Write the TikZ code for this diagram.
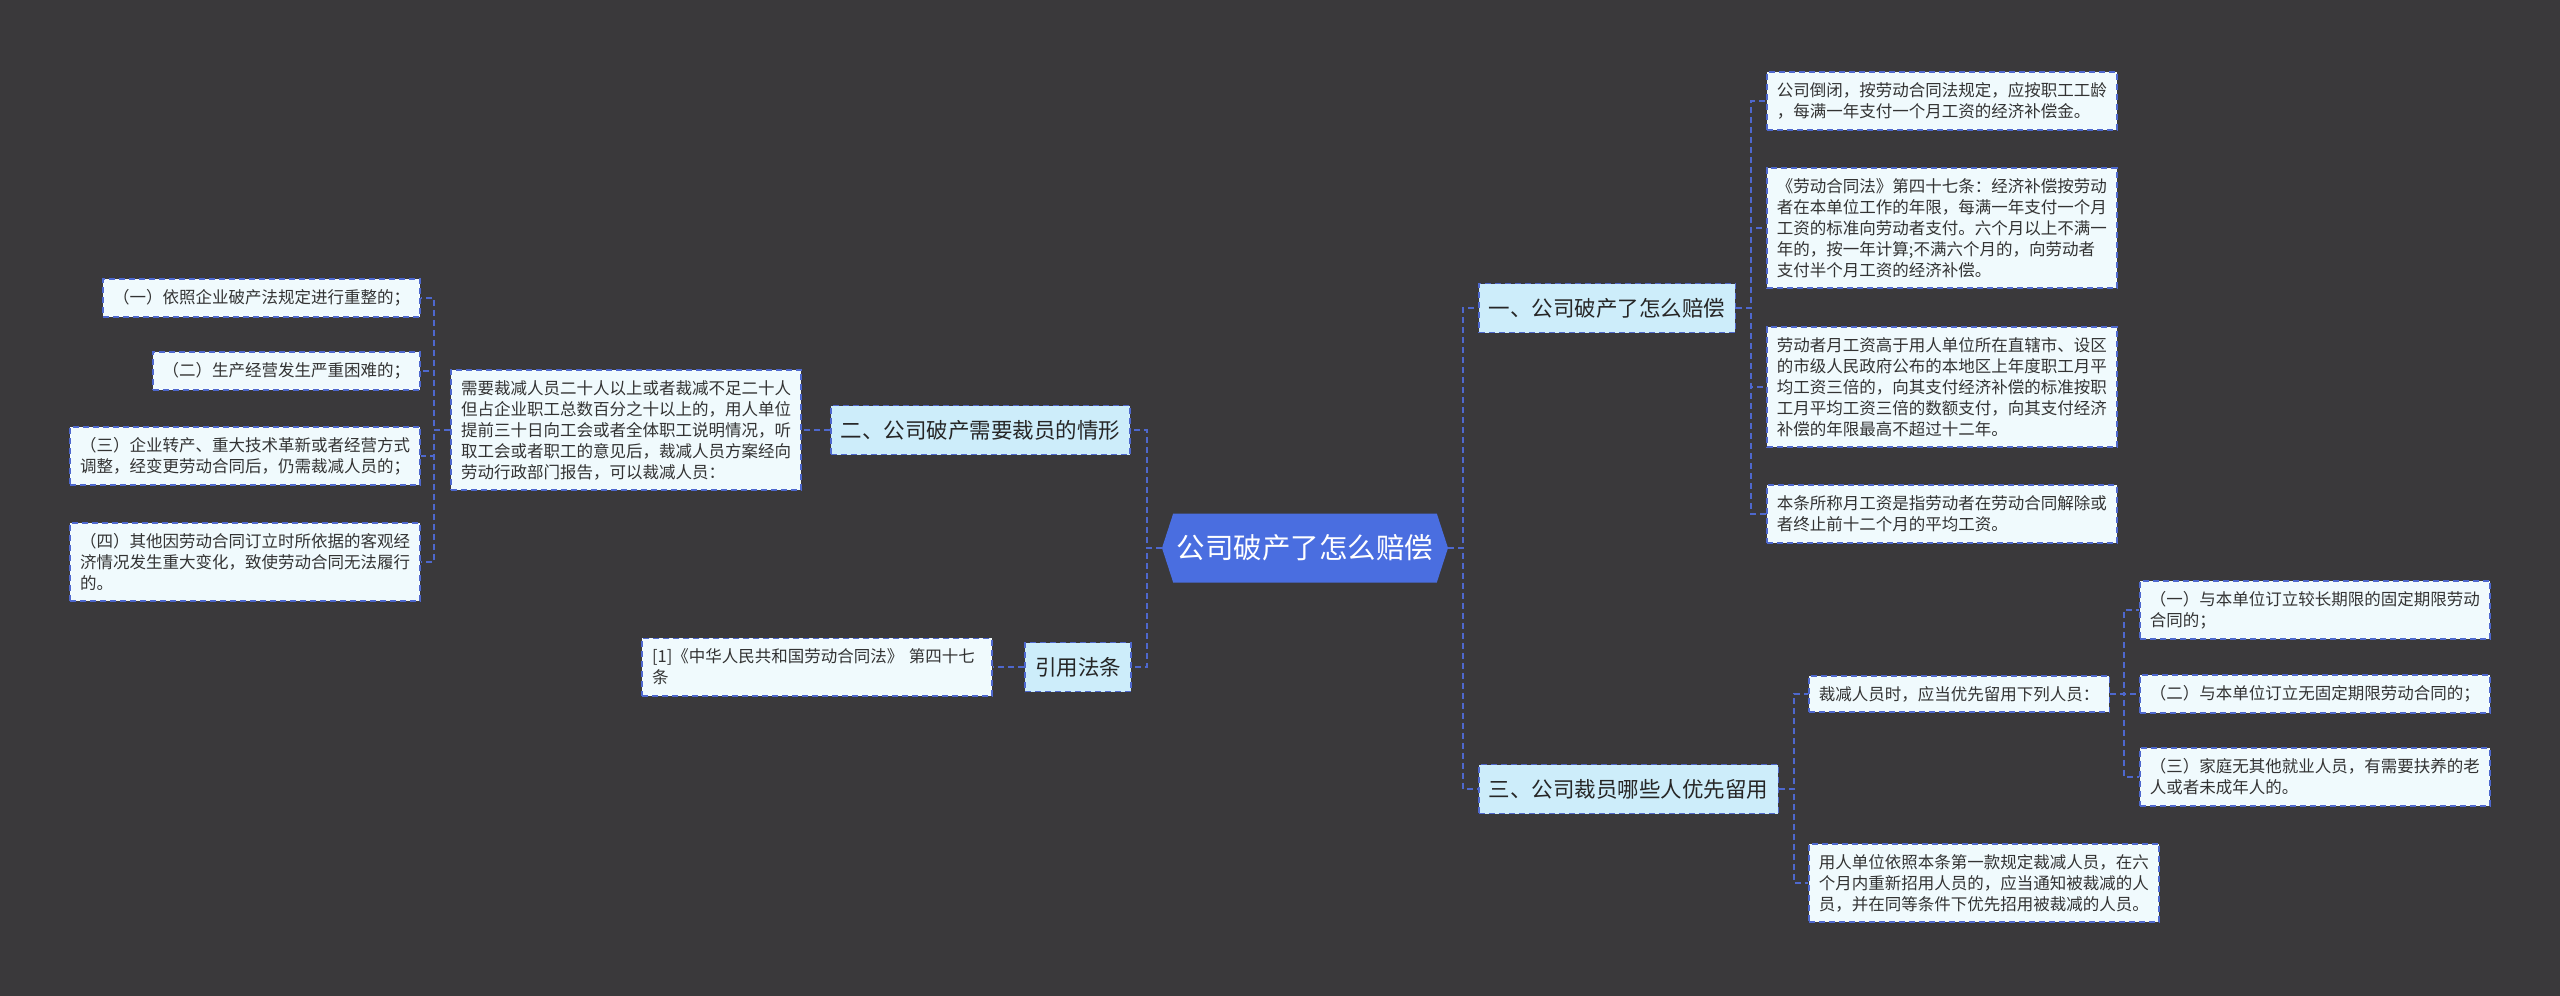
\documentclass[tikz,border=0pt]{standalone}
\usepackage{fontspec}
\setmainfont{Noto Sans CJK SC}
\usetikzlibrary{shapes.symbols}
\definecolor{bgdark}{RGB}{58,57,59}
\definecolor{linkblue}{RGB}{78,104,206}
\definecolor{rootblue}{RGB}{74,110,224}
\definecolor{topicfill}{RGB}{205,237,250}
\definecolor{leaffill}{RGB}{240,250,253}
\definecolor{inktext}{RGB}{51,51,51}
\begin{document}
\begin{tikzpicture}[x=1pt,y=-1pt,
  link/.style={linkblue,line width=1.8pt,dash pattern=on 6pt off 4pt},
  topic/.style={draw=linkblue,line width=1.8pt,dash pattern=on 6pt off 4pt,fill=topicfill,
    text=black!85,font=\fontsize{21.5}{26}\selectfont,inner xsep=10pt,minimum height=49pt},
  leaf/.style={draw=linkblue,line width=1.8pt,dash pattern=on 6pt off 4pt,fill=leaffill,
    text=inktext,font=\fontsize{16.5}{21}\selectfont,inner xsep=10pt,inner ysep=10.5pt,align=left},
  wide/.style={leaf,text width=330pt}]
\fill[bgdark] (0,0) rectangle (2560,996);
\useasboundingbox (0,0) rectangle (2560,996);

\node[signal,signal to=east and west,signal pointer angle=144,fill=rootblue,text=white,
  font=\fontsize{28.5}{34}\selectfont,minimum width=286pt,minimum height=69pt,inner sep=0pt]
  (root) at (1305,548) {公司破产了怎么赔偿};

\node[topic,anchor=west] (b1) at (1478,308) {一、公司破产了怎么赔偿};
\node[topic,anchor=west] (b3) at (1478,789) {三、公司裁员哪些人优先留用};
\node[topic,anchor=east] (b2) at (1131,430) {二、公司破产需要裁员的情形};
\node[topic,anchor=east] (b4) at (1132,667) {引用法条};

\node[wide,anchor=west] (r1) at (1766,101) {公司倒闭，按劳动合同法规定，应按职工工龄\\，每满一年支付一个月工资的经济补偿金。};
\node[wide,anchor=west] (r2) at (1766,228) {《劳动合同法》第四十七条：经济补偿按劳动\\者在本单位工作的年限，每满一年支付一个月\\工资的标准向劳动者支付。六个月以上不满一\\年的，按一年计算;不满六个月的，向劳动者\\支付半个月工资的经济补偿。};
\node[wide,anchor=west] (r3) at (1766,387) {劳动者月工资高于用人单位所在直辖市、设区\\的市级人民政府公布的本地区上年度职工月平\\均工资三倍的，向其支付经济补偿的标准按职\\工月平均工资三倍的数额支付，向其支付经济\\补偿的年限最高不超过十二年。};
\node[wide,anchor=west] (r4) at (1766,514) {本条所称月工资是指劳动者在劳动合同解除或\\者终止前十二个月的平均工资。};

\node[leaf,anchor=west] (t1) at (1808,694) {裁减人员时，应当优先留用下列人员：};
\node[wide,anchor=west] (t2) at (1808,883) {用人单位依照本条第一款规定裁减人员，在六\\个月内重新招用人员的，应当通知被裁减的人\\员，并在同等条件下优先招用被裁减的人员。};
\node[wide,anchor=west] (u1) at (2139,610) {（一）与本单位订立较长期限的固定期限劳动\\合同的；};
\node[leaf,anchor=west] (u2) at (2139,694) {（二）与本单位订立无固定期限劳动合同的；};
\node[wide,anchor=west] (u3) at (2139,777) {（三）家庭无其他就业人员，有需要扶养的老\\人或者未成年人的。};

\node[wide,anchor=east] (c1) at (802,430) {需要裁减人员二十人以上或者裁减不足二十人\\但占企业职工总数百分之十以上的，用人单位\\提前三十日向工会或者全体职工说明情况，听\\取工会或者职工的意见后，裁减人员方案经向\\劳动行政部门报告，可以裁减人员：};
\node[wide,anchor=east] (c2) at (993,667) {[1]《中华人民共和国劳动合同法》 第四十七\\条};
\node[leaf,anchor=east] (s1) at (421,298) {（一）依照企业破产法规定进行重整的；};
\node[leaf,anchor=east] (s2) at (421,371) {（二）生产经营发生严重困难的；};
\node[wide,anchor=east] (s3) at (421,456) {（三）企业转产、重大技术革新或者经营方式\\调整，经变更劳动合同后，仍需裁减人员的；};
\node[wide,anchor=east] (s4) at (421,562) {（四）其他因劳动合同订立时所依据的客观经\\济情况发生重大变化，致使劳动合同无法履行\\的。};

\draw[link] (root.east) -- ++(15,0) |- (b1.west);
\draw[link] (root.east) -- ++(15,0) |- (b3.west);
\draw[link] (root.west) -- ++(-15,0) |- (b2.east);
\draw[link] (root.west) -- ++(-15,0) |- (b4.east);
\foreach \n in {r1,r2,r3,r4} \draw[link] (b1.east) -- ++(15,0) |- (\n.west);
\foreach \n in {t1,t2} \draw[link] (b3.east) -- ++(15,0) |- (\n.west);
\foreach \n in {u1,u2,u3} \draw[link] (t1.east) -- ++(14,0) |- (\n.west);
\draw[link] (b2.west) -- (c1.east);
\draw[link] (b4.west) -- (c2.east);
\foreach \n in {s1,s2,s3,s4} \draw[link] (c1.west) -- ++(-16,0) |- (\n.east);
\end{tikzpicture}
\end{document}
